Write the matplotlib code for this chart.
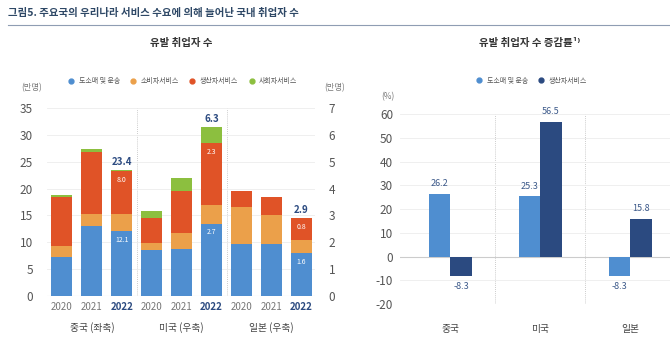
import matplotlib
matplotlib.use("Agg")
import matplotlib.pyplot as plt
from matplotlib.lines import Line2D
import numpy as np

plt.rcParams['font.family'] = ['Noto Sans CJK KR', 'DejaVu Sans']
plt.rcParams['axes.unicode_minus'] = False

# left chart: induced employment (China in 10k persons, US/Japan on right axis)
years = ['2020', '2021', '2022'] * 3
groups = ['중국 (좌축)', '미국 (우축)', '일본 (우축)']
series_names = ['도소매 및 운송', '소비자서비스', '생산자서비스', '사회자서비스']
china = {
    '도소매 및 운송': [7.2, 13.1, 12.1],
    '소비자서비스': [2.2, 2.1, 3.1],
    '생산자서비스': [9.1, 11.7, 8.0],
    '사회자서비스': [0.4, 0.5, 0.2],
}
usa = {
    '도소매 및 운송': [1.70, 1.74, 2.7],
    '소비자서비스': [0.26, 0.59, 0.7],
    '생산자서비스': [0.93, 1.60, 2.3],
    '사회자서비스': [0.26, 0.47, 0.6],
}
japan = {
    '도소매 및 운송': [1.93, 1.93, 1.6],
    '소비자서비스': [1.37, 1.07, 0.5],
    '생산자서비스': [0.60, 0.67, 0.8],
    '사회자서비스': [0.0, 0.0, 0.0],
}
totals_2022 = [23.4, 6.3, 2.9]
inner_labels = {0: (12.1, 8.0), 1: (2.7, 2.3), 2: (1.6, 0.8)}

# right chart: growth rate (%)
countries = ['중국', '미국', '일본']
rate_names = ['도소매 및 운송', '생산자서비스']
rate_trade = [26.2, 25.3, -8.3]
rate_prod = [-8.3, 56.5, 15.8]

colors = {'도소매 및 운송': '#4f8ed0', '소비자서비스': '#eba04a',
          '생산자서비스': '#e05327', '사회자서비스': '#8cbf3f'}
navy = '#2b4a80'
label_col = '#3d5a8a'
tick_col = '#555555'
grid_col = '#ececec'

fig = plt.figure(figsize=(6.7, 3.52), dpi=100)

# header
fig.text(0.012, 0.962, '그림5. 주요국의 우리나라 서비스 수요에 의해 늘어난 국내 취업자 수',
         fontsize=7.5, fontweight='bold', color='#2e4866', va='center')
fig.add_artist(Line2D([0.012, 1.0], [0.928, 0.928], color='#8f9db3', lw=0.8))
fig.text(0.27, 0.878, '유발 취업자 수', fontsize=7.5, fontweight='bold',
         color='#333333', ha='center', va='center')
fig.text(0.79, 0.878, '유발 취업자 수 증감률¹⁾', fontsize=7.5, fontweight='bold',
         color='#333333', ha='center', va='center')

# ---------------- left chart ----------------
ax = fig.add_axes([0.070, 0.159, 0.40, 0.534])
scale = 5.0  # right axis values drawn on left-axis scale
data_sets = [(china, 1.0), (usa, scale), (japan, scale)]
x = np.arange(9)
w = 0.7
for gi, (d, s) in enumerate(data_sets):
    bottom = np.zeros(3)
    xs = x[gi * 3:gi * 3 + 3]
    for name in series_names:
        vals = np.array(d[name]) * s
        ax.bar(xs, vals, w, bottom=bottom, color=colors[name], zorder=3)
        bottom = bottom + vals
    # 2022 total and inner labels
    ax.text(xs[2], bottom[2] + 0.6, f'{totals_2022[gi]:.1f}', ha='center',
            va='bottom', fontsize=7, fontweight='bold', color=navy)
    b_val, r_val = inner_labels[gi]
    blue_top = d['도소매 및 운송'][2] * s
    red_top = (d['도소매 및 운송'][2] + d['소비자서비스'][2] + d['생산자서비스'][2]) * s
    ax.text(xs[2], blue_top - 0.9, f'{b_val:.1f}', ha='center', va='top',
            fontsize=5, color='white', zorder=4)
    ax.text(xs[2], red_top - 0.9, f'{r_val:.1f}', ha='center', va='top',
            fontsize=5, color='white', zorder=4)

ax.set_xlim(-0.5, 8.45)
ax.set_ylim(0, 35)
ax.set_yticks(np.arange(0, 36, 5))
ax.tick_params(axis='y', length=0, labelsize=8.5, labelcolor=tick_col, pad=10)
ax.set_xticks(x)
ax.set_xticklabels(years)
for i, t in enumerate(ax.get_xticklabels()):
    if years[i] == '2022':
        t.set_fontweight('bold')
        t.set_color(navy)
    else:
        t.set_color('#777777')
    t.set_fontsize(7)
ax.tick_params(axis='x', length=0, pad=4)
ax.grid(axis='y', color=grid_col, lw=0.6, zorder=0)
for sp in ax.spines.values():
    sp.set_visible(False)
ax.axhline(0, color='#cccccc', lw=0.8, zorder=2)
for sx in [2.5, 5.5]:
    ax.axvline(sx, color='#bbbbbb', lw=0.6, ls=(0, (1, 1.5)), zorder=1)
for gi, g in enumerate(groups):
    ax.text(gi * 3 + 1, -0.165, g, transform=ax.get_xaxis_transform(),
            ha='center', va='center', fontsize=7, color='#444444')
ax.text(-0.056, 1.106, '(만명)', transform=ax.transAxes, fontsize=6,
        color='#777777', ha='center', va='center')

ax2 = ax.twinx()
ax2.set_ylim(0, 7)
ax2.set_yticks(np.arange(0, 8, 1))
ax2.tick_params(axis='y', length=0, labelsize=8.5, labelcolor=tick_col, pad=10)
for sp in ax2.spines.values():
    sp.set_visible(False)
ax2.text(1.075, 1.106, '(만명)', transform=ax.transAxes, fontsize=6,
         color='#777777', ha='center', va='center')

handles = [Line2D([], [], marker='o', ls='', markersize=3.5, color=colors[n])
           for n in series_names]
ax.legend(handles, series_names, loc='center', bbox_to_anchor=(0.5, 1.143),
          ncol=4, frameon=False, fontsize=5, handletextpad=0.1,
          columnspacing=0.9, labelcolor='#555555')

# ---------------- right chart ----------------
bx = fig.add_axes([0.597, 0.136, 0.403, 0.54])
cx = np.arange(3)
bw = 0.235
bx.bar(cx - bw / 2, rate_trade, bw, color=colors['도소매 및 운송'], zorder=3)
bx.bar(cx + bw / 2, rate_prod, bw, color=navy, zorder=3)
for i in range(3):
    for off, v in [(-bw / 2, rate_trade[i]), (bw / 2, rate_prod[i])]:
        if v >= 0:
            bx.text(cx[i] + off, v + 2.5, f'{v:.1f}', ha='center', va='bottom',
                    fontsize=6.5, color=label_col)
        else:
            bx.text(cx[i] + off, v - 2.5, f'{v:.1f}', ha='center', va='top',
                    fontsize=6.5, color=label_col)
bx.set_xlim(-0.56, 2.44)
bx.set_ylim(-20, 60)
bx.set_yticks(np.arange(-20, 61, 10))
bx.tick_params(axis='y', length=0, labelsize=8.5, labelcolor=tick_col, pad=5)
bx.set_xticks(cx)
bx.set_xticklabels(countries, fontsize=7, color='#444444')
bx.tick_params(axis='x', length=0, pad=14)
bx.grid(axis='y', color=grid_col, lw=0.6, zorder=0)
for sp in bx.spines.values():
    sp.set_visible(False)
bx.axhline(0, color='#cccccc', lw=0.8, zorder=2)
for sx in [0.5, 1.5]:
    bx.axvline(sx, color='#bbbbbb', lw=0.6, ls=(0, (1, 1.5)), zorder=1)
bx.text(-0.045, 1.09, '(%)', transform=bx.transAxes, fontsize=6,
        color='#777777', ha='center', va='center')
handles2 = [Line2D([], [], marker='o', ls='', markersize=3.5, color=c)
            for c in [colors['도소매 및 운송'], navy]]
bx.legend(handles2, rate_names, loc='center', bbox_to_anchor=(0.48, 1.175),
          ncol=2, frameon=False, fontsize=5, handletextpad=0.1,
          columnspacing=0.9, labelcolor='#555555')

fig.savefig('out.png', dpi=100)
